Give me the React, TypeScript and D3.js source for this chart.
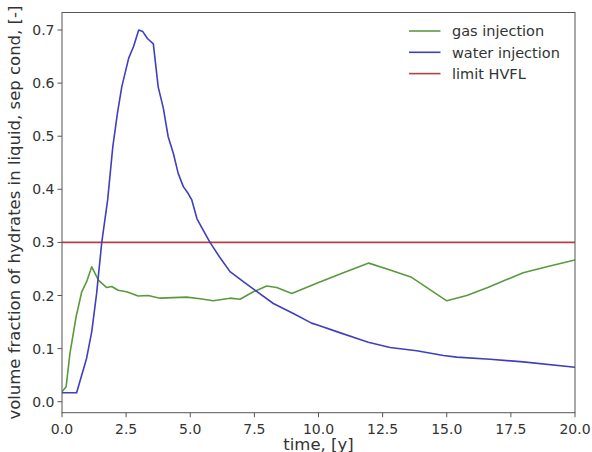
import React from "react";
import * as d3 from "d3";

const waterTime = [0, 0.57, 0.96, 1.16, 1.35, 1.55, 1.78, 1.98, 2.16, 2.33, 2.6, 2.79, 2.99, 3.15, 3.33, 3.56, 3.75, 3.95, 4.14, 4.34, 4.53, 4.73, 4.92, 5.06, 5.26, 5.46, 5.77, 6.15, 6.55, 7.07, 7.52, 8.24, 9.02, 9.73, 9.99, 10.71, 11.62, 11.94, 12.79, 13.83, 14.87, 15.39, 16.69, 17.98, 20];
const waterValues = [0.017, 0.017, 0.082, 0.132, 0.204, 0.3, 0.38, 0.48, 0.543, 0.593, 0.647, 0.669, 0.7, 0.697, 0.684, 0.674, 0.593, 0.553, 0.499, 0.468, 0.43, 0.405, 0.392, 0.38, 0.345, 0.327, 0.3, 0.272, 0.245, 0.226, 0.21, 0.185, 0.166, 0.148, 0.144, 0.132, 0.117, 0.112, 0.102, 0.096, 0.087, 0.084, 0.08, 0.075, 0.065];

const gasTime = [0, 0.16, 0.31, 0.55, 0.77, 0.96, 1.16, 1.42, 1.74, 1.94, 2.19, 2.52, 2.97, 3.36, 3.82, 4.34, 4.86, 5.38, 5.9, 6.55, 6.94, 7.46, 7.98, 8.37, 8.96, 9.93, 10.97, 11.96, 12.79, 13.6, 15.0, 15.78, 16.6, 17.98, 18.9, 20];
const gasValues = [0.019, 0.028, 0.091, 0.16, 0.207, 0.226, 0.254, 0.229, 0.215, 0.217, 0.21, 0.207, 0.199, 0.2, 0.195, 0.196, 0.197, 0.194, 0.19, 0.195, 0.193, 0.207, 0.218, 0.215, 0.204, 0.223, 0.243, 0.261, 0.248, 0.235, 0.19, 0.2, 0.215, 0.243, 0.254, 0.267];

const limitTime = [0, 20];
const limitValues = [0.3, 0.3];

const xTicks = [0, 2.5, 5, 7.5, 10, 12.5, 15, 17.5, 20];
const yTicks = [0, 0.1, 0.2, 0.3, 0.4, 0.5, 0.6, 0.7];

const seriesNames = ["gas injection", "water injection", "limit HVFL"];
const seriesColors = ["#5a9a3f", "#3f3fbf", "#b04444"];

const W = 592;
const H = 452;
const left = 62;
const right = 575;
const top = 12.5;
const bottom = 412.7;

export default function App() {
  const x = d3.scaleLinear().domain([0, 20]).range([left, right]);
  const y = d3.scaleLinear().domain([-0.0207, 0.733]).range([bottom, top]);
  const line = d3
    .line<[number, number]>()
    .x((d) => x(d[0]))
    .y((d) => y(d[1]));

  const series = [
    gasTime.map((t, i) => [t, gasValues[i]] as [number, number]),
    waterTime.map((t, i) => [t, waterValues[i]] as [number, number]),
    limitTime.map((t, i) => [t, limitValues[i]] as [number, number]),
  ];

  const font = "'DejaVu Sans', sans-serif";
  const tickColor = "#333";
  const spine = "#555";

  return (
    <svg
      width={W}
      height={H}
      style={{ position: "absolute", left: 0, top: 0, background: "#fff" }}
      fontFamily={font}
    >
      <rect x={0} y={0} width={W} height={H} fill="#fff" />
      <defs>
        <clipPath id="plot">
          <rect x={left} y={top} width={right - left} height={bottom - top} />
        </clipPath>
      </defs>
      <g clipPath="url(#plot)">
        {[2, 0, 1].map((k) => (
          <path
            key={k}
            d={line(series[k]) || ""}
            fill="none"
            stroke={seriesColors[k]}
            strokeWidth={1.6}
            strokeLinejoin="round"
          />
        ))}
      </g>
      <rect
        x={left}
        y={top}
        width={right - left}
        height={bottom - top}
        fill="none"
        stroke={spine}
        strokeWidth={1}
      />
      {xTicks.map((t) => (
        <g key={"x" + t}>
          <line x1={x(t)} x2={x(t)} y1={bottom} y2={bottom + 4.5} stroke={spine} />
          <text
            x={x(t)}
            y={434}
            textAnchor="middle"
            fontSize={14}
            fill={tickColor}
          >
            {t.toFixed(1)}
          </text>
        </g>
      ))}
      {yTicks.map((t) => (
        <g key={"y" + t}>
          <line x1={left - 4.5} x2={left} y1={y(t)} y2={y(t)} stroke={spine} />
          <text
            x={left - 7.5}
            y={y(t)}
            dy="0.36em"
            textAnchor="end"
            fontSize={14}
            fill={tickColor}
          >
            {t.toFixed(1)}
          </text>
        </g>
      ))}
      <text
        x={(left + right) / 2}
        y={450}
        textAnchor="middle"
        fontSize={16.5}
        fill={tickColor}
      >
        time, [y]
      </text>
      <text
        transform={`translate(20,${(top + bottom) / 2}) rotate(-90)`}
        textAnchor="middle"
        fontSize={16.5}
        fill={tickColor}
      >
        volume fraction of hydrates in liquid, sep cond, [-]
      </text>
      {seriesNames.map((name, i) => (
        <g key={name}>
          <line
            x1={409}
            x2={440.5}
            y1={31 + i * 21.3}
            y2={31 + i * 21.3}
            stroke={seriesColors[i]}
            strokeWidth={1.6}
          />
          <text
            x={452}
            y={31 + i * 21.3}
            dy="0.36em"
            fontSize={14.5}
            fill={tickColor}
          >
            {name}
          </text>
        </g>
      ))}
    </svg>
  );
}
